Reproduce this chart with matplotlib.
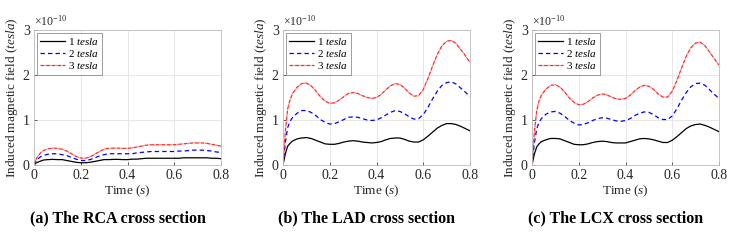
import matplotlib
matplotlib.use("Agg")
import matplotlib.pyplot as plt

plt.rcParams["font.family"] = ["Liberation Serif", "DejaVu Serif"]
plt.rcParams["mathtext.fontset"] = "custom"
plt.rcParams["mathtext.rm"] = "Liberation Serif"
plt.rcParams["mathtext.it"] = "Liberation Serif:italic"

# time samples (s)
t = [0, 0.01, 0.02, 0.03, 0.04, 0.06, 0.08, 0.10, 0.12, 0.14, 0.16, 0.18, 0.20,
     0.22, 0.24, 0.26, 0.28, 0.30, 0.32, 0.34, 0.36, 0.38, 0.40, 0.42, 0.44, 0.46,
     0.48, 0.50, 0.52, 0.54, 0.56, 0.58, 0.60, 0.62, 0.64, 0.66, 0.68, 0.70, 0.72,
     0.74, 0.76, 0.78, 0.80]

# induced field, units of 1e-10 tesla
rca_1t = [0, 0.05, 0.07, 0.09, 0.11, 0.12, 0.125, 0.12, 0.12, 0.10, 0.08, 0.06, 0.05,
          0.05, 0.06, 0.08, 0.10, 0.12, 0.12, 0.125, 0.125, 0.12, 0.12, 0.13, 0.13, 0.14,
          0.15, 0.15, 0.15, 0.15, 0.15, 0.15, 0.15, 0.15, 0.16, 0.16, 0.16, 0.16, 0.16,
          0.16, 0.15, 0.15, 0.14]
rca_2t = [0, 0.09, 0.15, 0.19, 0.21, 0.24, 0.25, 0.25, 0.23, 0.21, 0.17, 0.13, 0.10,
          0.10, 0.12, 0.16, 0.20, 0.23, 0.25, 0.25, 0.25, 0.25, 0.25, 0.25, 0.27, 0.28,
          0.29, 0.30, 0.30, 0.30, 0.30, 0.30, 0.30, 0.31, 0.31, 0.32, 0.33, 0.33, 0.33,
          0.32, 0.31, 0.29, 0.28]
rca_3t = [0, 0.14, 0.22, 0.28, 0.32, 0.36, 0.375, 0.37, 0.35, 0.31, 0.25, 0.19, 0.155,
          0.15, 0.18, 0.24, 0.30, 0.35, 0.37, 0.375, 0.375, 0.37, 0.37, 0.38, 0.40, 0.42,
          0.44, 0.45, 0.45, 0.45, 0.45, 0.45, 0.45, 0.46, 0.47, 0.48, 0.49, 0.49, 0.49,
          0.48, 0.46, 0.44, 0.42]

lad_1t = [0, 0.25, 0.42, 0.48, 0.53, 0.58, 0.60, 0.61, 0.59, 0.55, 0.51, 0.47, 0.46,
          0.46, 0.48, 0.51, 0.53, 0.54, 0.53, 0.51, 0.50, 0.49, 0.50, 0.52, 0.56, 0.59,
          0.60, 0.60, 0.57, 0.53, 0.51, 0.51, 0.56, 0.64, 0.73, 0.82, 0.88, 0.92, 0.92,
          0.90, 0.86, 0.81, 0.76]
lad_2t = [0, 0.50, 0.83, 0.97, 1.05, 1.15, 1.21, 1.21, 1.17, 1.10, 1.01, 0.95, 0.91,
          0.92, 0.96, 1.01, 1.06, 1.07, 1.06, 1.03, 1.00, 0.99, 1.00, 1.05, 1.11, 1.17,
          1.21, 1.19, 1.14, 1.07, 1.02, 1.03, 1.12, 1.28, 1.47, 1.64, 1.77, 1.83, 1.85,
          1.80, 1.71, 1.62, 1.52]
lad_3t = [0, 0.75, 1.25, 1.45, 1.58, 1.73, 1.81, 1.82, 1.76, 1.65, 1.52, 1.42, 1.37,
          1.38, 1.44, 1.52, 1.59, 1.61, 1.59, 1.54, 1.50, 1.48, 1.50, 1.57, 1.67, 1.76,
          1.81, 1.79, 1.71, 1.60, 1.53, 1.54, 1.68, 1.92, 2.20, 2.46, 2.65, 2.75, 2.77,
          2.70, 2.57, 2.43, 2.28]

lcx_1t = [0, 0.24, 0.40, 0.47, 0.52, 0.56, 0.59, 0.59, 0.58, 0.54, 0.50, 0.46, 0.45,
          0.45, 0.47, 0.50, 0.52, 0.53, 0.52, 0.50, 0.49, 0.49, 0.49, 0.52, 0.55, 0.58,
          0.59, 0.58, 0.56, 0.53, 0.50, 0.50, 0.55, 0.63, 0.72, 0.81, 0.87, 0.90, 0.91,
          0.88, 0.84, 0.79, 0.74]
lcx_2t = [0, 0.48, 0.80, 0.95, 1.03, 1.13, 1.18, 1.19, 1.15, 1.08, 0.99, 0.93, 0.89,
          0.90, 0.94, 0.99, 1.03, 1.05, 1.04, 1.01, 0.98, 0.97, 0.99, 1.03, 1.10, 1.15,
          1.18, 1.17, 1.12, 1.05, 1.01, 1.01, 1.09, 1.25, 1.44, 1.61, 1.74, 1.81, 1.82,
          1.77, 1.67, 1.57, 1.48]
lcx_3t = [0, 0.72, 1.20, 1.42, 1.55, 1.69, 1.77, 1.78, 1.73, 1.62, 1.49, 1.39, 1.34,
          1.35, 1.41, 1.49, 1.55, 1.58, 1.56, 1.51, 1.47, 1.46, 1.48, 1.55, 1.65, 1.73,
          1.77, 1.75, 1.68, 1.58, 1.51, 1.51, 1.64, 1.88, 2.16, 2.42, 2.61, 2.71, 2.73,
          2.65, 2.51, 2.36, 2.22]

captions = ["(a) The RCA cross section", "(b) The LAD cross section", "(c) The LCX cross section"]
panels = [(rca_1t, rca_2t, rca_3t), (lad_1t, lad_2t, lad_3t), (lcx_1t, lcx_2t, lcx_3t)]
legend_labels = [r"1 $tesla$", r"2 $tesla$", r"3 $tesla$"]

W, H = 752, 241
fig = plt.figure(figsize=(W / 100, H / 100), dpi=100)
lefts = [34, 283, 532]
AX_W, AX_TOP, AX_BOT = 187, 30, 165
AXIS_GRAY = "#262626"

for left, series, cap in zip(lefts, panels, captions):
    ax = fig.add_axes([left / W, (H - AX_BOT) / H, AX_W / W, (AX_BOT - AX_TOP) / H])
    y1, y2, y3 = series
    ax.plot(t, y1, color="black", lw=0.9, label=legend_labels[0])
    ax.plot(t, y2, color="#0000ff", lw=0.9, ls=(0, (3.5, 2.5)), label=legend_labels[1])
    ax.plot(t, y3, color="#ff2a2a", lw=0.9, ls=(0, (3, 0.5, 0.5, 0.5)), label=legend_labels[2])
    ax.set_xlim(0, 0.8)
    ax.set_ylim(0, 3)
    ax.set_xticks([0, 0.2, 0.4, 0.6, 0.8])
    ax.set_xticklabels(["0", "0.2", "0.4", "0.6", "0.8"])
    ax.set_yticks([0, 1, 2, 3])
    ax.grid(True, color="#e3e3e3", lw=0.6)
    ax.set_axisbelow(True)
    ax.tick_params(direction="in", length=2.5, width=0.5, labelsize=10,
                   colors=AXIS_GRAY, pad=3)
    for sp in ax.spines.values():
        sp.set_color("#bdbdbd")
        sp.set_linewidth(0.6)
    ax.set_xlabel(r"Time ($s$)", fontsize=9.5, color=AXIS_GRAY, labelpad=1)
    ax.set_ylabel(r"Induced magnetic field ($tesla$)", fontsize=9.5, color=AXIS_GRAY, labelpad=2)
    ax.text(0.0, 1.01, r"$\times10^{-10}$", transform=ax.transAxes, fontsize=8.5,
            color=AXIS_GRAY, ha="left", va="bottom")
    leg = ax.legend(loc="upper left", fontsize=8, frameon=True, fancybox=False,
                    handlelength=2.2, handletextpad=0.3, borderpad=0.3,
                    labelspacing=0.1, borderaxespad=0.25)
    leg.get_frame().set_edgecolor("#555555")
    leg.get_frame().set_linewidth(0.5)
    fig.text((left + AX_W / 2 - 10) / W, (H - 218) / H, cap, fontsize=11.5,
             fontweight="bold", ha="center", va="center")

fig.savefig("out.png", dpi=100)
